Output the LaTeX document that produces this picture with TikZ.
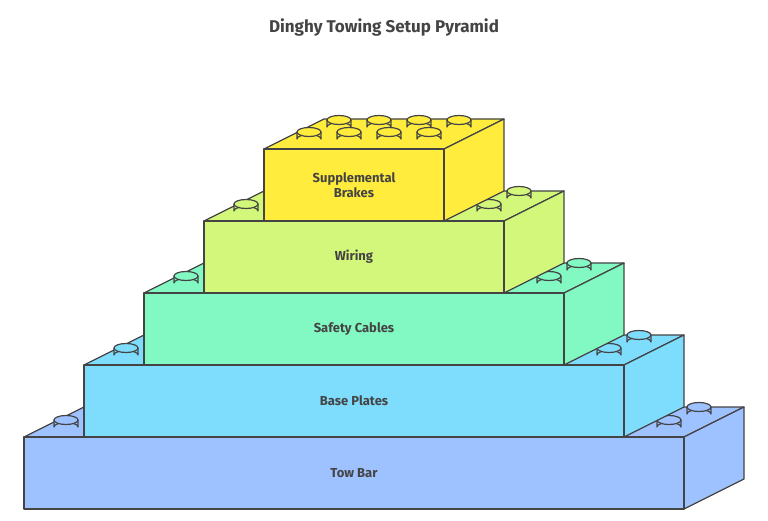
\documentclass[tikz,border=0pt]{standalone}
\usepackage{fontspec}
\setmainfont{Fira Sans}
\usetikzlibrary{calc}
\definecolor{ink}{HTML}{444444}
\definecolor{towbar}{HTML}{9EC1FF}
\definecolor{baseplate}{HTML}{7EDDFD}
\definecolor{safety}{HTML}{82F8C2}
\definecolor{wiring}{HTML}{D3F77A}
\definecolor{supp}{HTML}{FFEC3D}
\tikzset{
  edge/.style={draw=ink, line width=1.2pt, line join=round},
  label/.style={text=ink, font=\bfseries\fontsize{13}{15}\selectfont, align=center}
}
% block: x0, x1, ytop, ybottom, colour
\newcommand{\brick}[5]{
  \fill[#5, edge] (#1,#3) -- ++(60,-30) -- (#2+60,#3-30) -- (#2,#3) -- cycle;
  \fill[#5, edge] (#2,#3) -- (#2+60,#3-30) -- (#2+60,#4-30) -- (#2,#4) -- cycle;
  \fill[#5, edge] (#1,#3) rectangle (#2,#4);
}
% stud: centre x, base y, colour
\newcommand{\stud}[3]{
  \fill[#3, edge] (#1-12,#2-7) -- (#1-12,#2) arc[start angle=180, end angle=360, x radius=12, y radius=4.5] -- (#1+12,#2-7);
  \fill[#3, edge] (#1,#2-7) ellipse[x radius=12, y radius=4.5];
}
\begin{document}
\begin{tikzpicture}[x=1pt, y=-1pt]
  \useasboundingbox (0,0) rectangle (768,521);
  \node[text=ink, font=\bfseries\fontsize{17}{20}\selectfont] (title) at (384,27) {Dinghy Towing Setup Pyramid};

  % Tow Bar
  \brick{24}{684}{437}{509}{towbar}
  \stud{66}{427}{towbar}
  \stud{669}{427}{towbar}
  \stud{699}{414}{towbar}
  \node[label] (towbar) at (354,473) {Tow Bar};

  % Base Plates
  \brick{84}{624}{365}{437}{baseplate}
  \stud{126}{355}{baseplate}
  \stud{609}{355}{baseplate}
  \stud{639}{342}{baseplate}
  \node[label] (baseplates) at (354,401) {Base Plates};

  % Safety Cables
  \brick{144}{564}{293}{365}{safety}
  \stud{186}{283}{safety}
  \stud{549}{283}{safety}
  \stud{579}{270}{safety}
  \node[label] (safety) at (354,329) {Safety Cables};

  % Wiring
  \brick{204}{504}{221}{293}{wiring}
  \stud{246}{211}{wiring}
  \stud{489}{211}{wiring}
  \stud{519}{198}{wiring}
  \node[label] (wiring) at (354,257) {Wiring};

  % Supplemental Brakes
  \brick{264}{444}{149}{221}{supp}
  \foreach \x in {339,379,419,459} {\stud{\x}{127}{supp}}
  \foreach \x in {309,349,389,429} {\stud{\x}{139}{supp}}
  \node[label] (brakes) at (354,185) {Supplemental\\Brakes};
\end{tikzpicture}
\end{document}
